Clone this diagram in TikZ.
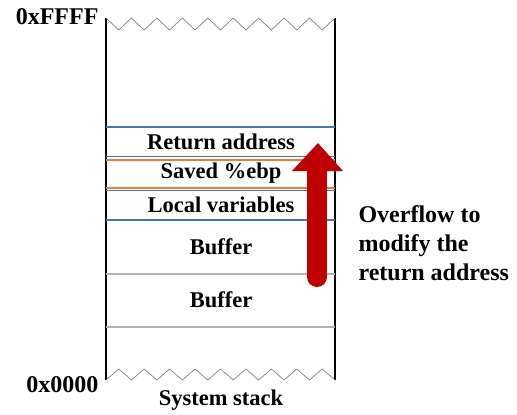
\documentclass[tikz,border=0pt]{standalone}
\usepackage{fontspec}
\setmainfont{Liberation Serif}
\usetikzlibrary{positioning}
\definecolor{cellblue}{RGB}{68,114,196}
\definecolor{cellorange}{RGB}{237,125,49}
\definecolor{arrowred}{RGB}{192,0,0}

\begin{document}
\begin{tikzpicture}[x=1pt,y=-1pt,
  lbl/.style={font=\bfseries\fontsize{22.5}{26}\selectfont},
  side/.style={font=\bfseries\fontsize{24}{29}\selectfont},
  wall/.style={line width=1.4pt},
  zig/.style={gray,line width=0.7pt},
  sep/.style={line width=1.6pt}]
  \useasboundingbox (0,0) rectangle (517,415);
  % stack walls and broken ends
  \draw[wall] (106,18)--(106,380);
  \draw[wall] (335,18)--(335,380);
  \draw[zig] (106,18) \foreach \i in {0,...,8}{ -- ++(12.72,12) -- ++(12.72,-12)};
  \draw[zig] (106,380) \foreach \i in {0,...,8}{ -- ++(12.72,-11) -- ++(12.72,11)};
  % cell borders
  \draw[sep,cellblue] (106,127)--(335,127);
  \draw[sep,cellblue] (106,156.5)--(335,156.5);
  \draw[sep,cellblue] (106,190.5)--(335,190.5);
  \draw[sep,cellblue] (106,220)--(335,220);
  \draw[line width=2pt,cellorange] (106,159.5)--(335,159.5);
  \draw[line width=2pt,cellorange] (106,187.5)--(335,187.5);
  \draw[sep,gray!60] (106,274)--(335,274);
  \draw[sep,gray!60] (106,327)--(335,327);
  % cell labels
  \node[lbl] (ret) at (221,142) {Return address};
  \node[lbl] (ebp) at (221,173) {Saved \%ebp};
  \node[lbl] (loc) at (221,205) {Local variables};
  \node[lbl] (buf1) at (221,247) {Buffer};
  \node[lbl] (buf2) at (221,300) {Buffer};
  \node[lbl] (stk) at (221,400) {System stack};
  \node[side,anchor=east] (hi) at (102,17) {0xFFFF};
  \node[side,anchor=east] (lo) at (102,385) {0x0000};
  % overflow arrow
  \draw[arrowred,line width=20pt,line cap=round] (317,277)--(317,166);
  \fill[arrowred] (292,171)--(318,143)--(343,171)--cycle;
  \node[side,anchor=west,align=left] (note) at (355,243) {Overflow to\\modify the\\return address};
\end{tikzpicture}
\end{document}
